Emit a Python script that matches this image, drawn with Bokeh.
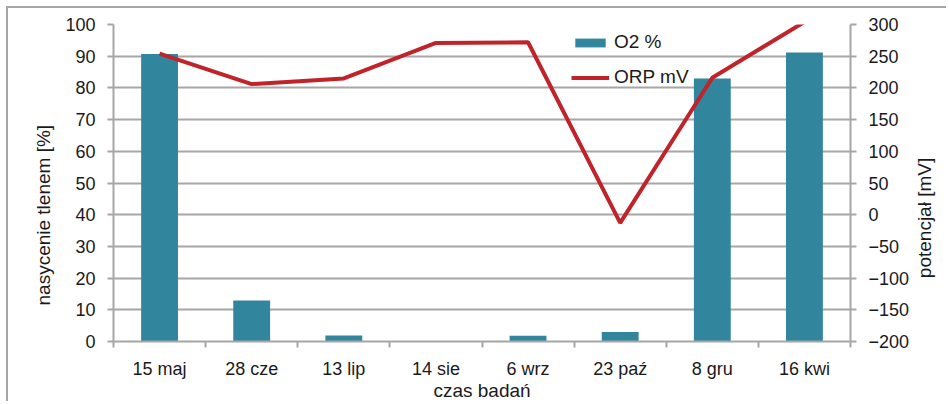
import math
from bokeh.plotting import figure
from bokeh.models import Range1d, LinearAxis, FixedTicker, Legend, LegendItem, ColumnDataSource, Title
from bokeh.embed import file_html
from bokeh.resources import INLINE

categories = ["15 maj", "28 cze", "13 lip", "14 sie", "6 wrz", "23 paź", "8 gru", "16 kwi"]
o2_percent = [90.7, 12.9, 1.9, 0.0, 1.8, 3.0, 83.0, 91.2]
orp_mv = [254, 206, 215, 271, 272, -13, 216, 304]
left_ticks = list(range(0, 101, 10))
right_ticks = list(range(-200, 301, 50))

FONT = "Liberation Sans"
TXT = "#1a1a1a"
GRID = "#a6a6a6"
BAR = "#31859C"
RED = "#C0232A"
TICK_FS = "18px"
TITLE_FS = "19px"

n = len(categories)
xc = [i + 0.5 for i in range(n)]
src = ColumnDataSource(dict(x=xc, o2=o2_percent, orp=orp_mv, cat=categories))

p = figure(width=940, height=395, x_range=Range1d(0, n), y_range=Range1d(0, 100),
           output_backend="svg", toolbar_location=None,
           min_border_left=105, min_border_right=97, min_border_top=16, min_border_bottom=61)
p.outline_line_color = None
p.styles = {"margin-left": "6px", "margin-top": "6px",
            "border-left": "2px solid #a6a6a6", "border-top": "2px solid #a6a6a6"}
p.extra_y_ranges = {"orp": Range1d(-200, 300)}

bars = p.vbar(x="x", top="o2", width=0.4, source=src, fill_color=BAR, line_color=None)
line = p.line(x="x", y="orp", source=src, y_range_name="orp", line_color=RED, line_width=4)

# x axis
xa = p.xaxis[0]
xa.ticker = FixedTicker(ticks=xc, minor_ticks=list(range(n + 1)))
xa.major_label_overrides = {x: c for x, c in zip(xc, categories)}
xa.axis_label = "czas badań"

# left axis
ya = p.yaxis[0]
ya.ticker = FixedTicker(ticks=left_ticks)

# right axis (title reads bottom-to-top like in the reference)
ra = LinearAxis(y_range_name="orp", ticker=FixedTicker(ticks=right_ticks),
                axis_label="potencjał [mV]")
ra.axis_label_standoff = 12
props = ra.properties()
if "axis_label_orientation" in props:
    ra.axis_label_orientation = math.pi / 2
    if "axis_label_align" in props:
        ra.axis_label_align = "start"
        ra.axis_label = "\u00a0" * 12 + "potencjał [mV]"
p.add_layout(ra, "right")

for ax in [xa, ya, ra]:
    ax.axis_line_color = GRID
    ax.axis_line_width = 2
    ax.major_tick_line_color = GRID
    ax.major_tick_line_width = 2
    ax.minor_tick_line_width = 2
    ax.major_tick_out = 6
    ax.major_tick_in = 0
    ax.minor_tick_line_color = None
    ax.major_label_text_font = FONT
    ax.major_label_text_font_size = TICK_FS
    ax.major_label_text_color = TXT
    ax.axis_label_text_font = FONT
    ax.axis_label_text_font_size = TITLE_FS
    ax.axis_label_text_font_style = "normal"
    ax.axis_label_text_color = TXT
    ax.major_label_standoff = 12
xa.major_tick_out = 0
xa.minor_tick_line_color = GRID
xa.minor_tick_out = 6
xa.minor_tick_in = 0
xa.major_label_standoff = 11
xa.axis_label_standoff = -2

# left axis title (reads bottom-to-top), placed as in the reference
p.add_layout(Title(text="nasycenie tlenem [%]", align="left", offset=36, standoff=18,
                   text_font=FONT, text_font_size=TITLE_FS, text_font_style="normal",
                   text_color=TXT), "left")

p.xgrid.grid_line_color = None
p.ygrid.ticker = FixedTicker(ticks=left_ticks)
p.ygrid.grid_line_color = GRID
p.ygrid.grid_line_width = 2

legend = Legend(items=[LegendItem(label="O2 %", renderers=[bars]),
                       LegendItem(label="ORP mV", renderers=[line])],
                location=(458, 253), padding=0, margin=0, spacing=13,
                glyph_width=38, glyph_height=11, label_standoff=5,
                border_line_color=None, background_fill_alpha=0,
                label_text_font=FONT, label_text_font_size=TITLE_FS, label_text_color=TXT)
p.add_layout(legend, "center")

open("out.html", "w").write(file_html(p, INLINE))
